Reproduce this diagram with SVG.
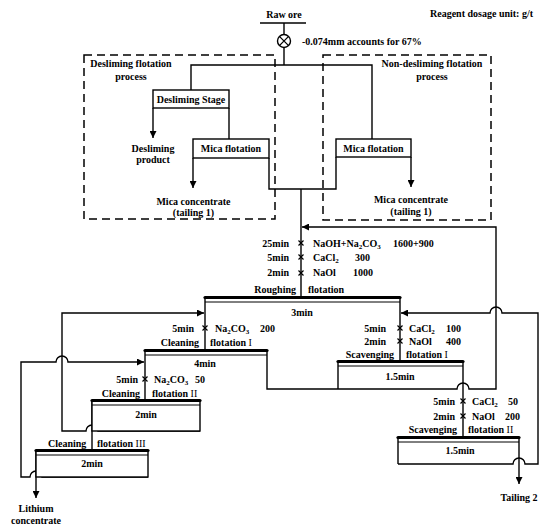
<svg xmlns="http://www.w3.org/2000/svg" width="550" height="532" viewBox="0 0 550 532">
<style>
.t{font-family:"Liberation Serif","Times New Roman",serif;font-weight:bold;font-size:10px;fill:#000}
.m{text-anchor:middle}
.e{text-anchor:end}
.n{font-weight:normal}
.s{font-size:7px}
.ln{fill:none;stroke:#000;stroke-width:1.4}
.dash{fill:none;stroke:#000;stroke-width:1.5;stroke-dasharray:8,5}
.box{fill:#fff;stroke:#000;stroke-width:1.4}
.bar{stroke:#000;stroke-width:3.2;stroke-linecap:round}
.thin{stroke:#000;stroke-width:1}
.x{stroke:#000;stroke-width:1.2}
</style>
<defs>
<marker id="ah" viewBox="0 0 10 10" refX="10" refY="5" markerWidth="8" markerHeight="7" markerUnits="userSpaceOnUse" orient="auto">
<path d="M0,0 L10,5 L0,10 z" fill="#000"/>
</marker>
</defs>
<rect width="550" height="532" fill="#fff"/>

<g id="legend"><text class="t" x="430" y="17">Reagent dosage unit: g/t</text></g>

<g id="dashed-areas">
<rect class="dash" x="84" y="55" width="191" height="164"/>
<rect class="dash" x="323" y="55" width="168" height="165"/>
<text class="t m" x="131" y="67">Desliming flotation</text>
<text class="t m" x="131" y="80">process</text>
<text class="t m" x="432" y="67">Non-desliming flotation</text>
<text class="t m" x="432" y="80">process</text>
</g>

<g id="connectors">
<!-- raw ore feed -->
<line class="ln" x1="260" y1="23" x2="306" y2="23"/>
<line class="ln" x1="284" y1="23" x2="284" y2="34.5"/>
<line class="ln" x1="284" y1="47.5" x2="284" y2="65"/>
<polyline class="ln" points="191,90 191,65 372,65 372,139"/>
<line class="ln" x1="153" y1="108" x2="153" y2="138" marker-end="url(#ah)"/>
<line class="ln" x1="229" y1="108" x2="229" y2="139"/>
<line class="ln" x1="193" y1="158" x2="193" y2="188" marker-end="url(#ah)"/>
<line class="ln" x1="411" y1="157" x2="411" y2="187" marker-end="url(#ah)"/>
<polyline class="ln" points="269,158 269,189 336,189 336,157"/>
<line class="ln" x1="301" y1="189" x2="301" y2="298"/>
<!-- roughing outputs -->
<line class="ln" x1="205" y1="298" x2="205" y2="351"/>
<line class="ln" x1="400" y1="298" x2="400" y2="362"/>
<!-- cleaning I outputs -->
<line class="ln" x1="145" y1="351" x2="145" y2="401"/>
<path class="ln" d="M267,351 V389 H457 A6,6 0 0 1 469,389 H496 V227 H302" marker-end="url(#ah)"/>
<!-- cleaning II -->
<line class="ln" x1="92" y1="401" x2="92" y2="451"/>
<path class="ln" d="M200,431 H98 A6,6 0 0 0 86,431 H62 V313 H204" marker-end="url(#ah)"/>
<!-- cleaning III -->
<path class="ln" d="M148,477 H42 A6,6 0 0 0 30,477 H21 V362 H56 A6,6 0 0 1 68,362 H144" marker-end="url(#ah)"/>
<line class="ln" x1="36" y1="451" x2="36" y2="498" marker-end="url(#ah)"/>
<!-- scavenging -->
<line class="ln" x1="463" y1="362" x2="463" y2="438"/>
<path class="ln" d="M398,464 H513 A6,6 0 0 1 525,464 H538 V313 H502 A6,6 0 0 0 490,313 H401" marker-end="url(#ah)"/>
<line class="ln" x1="519" y1="438" x2="519" y2="484" marker-end="url(#ah)"/>
<!-- reagent marks -->
<g class="x">
<path d="M298.5,240.5 L303.5,245.5 M303.5,240.5 L298.5,245.5"/>
<path d="M298.5,254.5 L303.5,259.5 M303.5,254.5 L298.5,259.5"/>
<path d="M298.5,270.5 L303.5,275.5 M303.5,270.5 L298.5,275.5"/>
<path d="M202.5,325.5 L207.5,330.5 M207.5,325.5 L202.5,330.5"/>
<path d="M142.5,376.5 L147.5,381.5 M147.5,376.5 L142.5,381.5"/>
<path d="M397.5,325.5 L402.5,330.5 M402.5,325.5 L397.5,330.5"/>
<path d="M397.5,338.5 L402.5,343.5 M402.5,338.5 L397.5,343.5"/>
<path d="M460.5,398.5 L465.5,403.5 M465.5,398.5 L460.5,403.5"/>
<path d="M460.5,413.5 L465.5,418.5 M465.5,413.5 L460.5,418.5"/>
</g>
</g>

<g id="raw-ore">
<text class="t m" x="284" y="18">Raw ore</text>
<circle cx="284" cy="41" r="6.5" fill="#fff" stroke="#000" stroke-width="1.4"/>
<path d="M279.4,36.4 L288.6,45.6 M288.6,36.4 L279.4,45.6" stroke="#000" stroke-width="1.3"/>
<text class="t" x="302" y="45">-0.074mm accounts for 67%</text>
</g>

<g id="desliming-stage">
<rect class="box" x="153" y="90" width="76" height="18"/>
<text class="t m" x="191" y="102.5">Desliming Stage</text>
</g>
<g id="desliming-product">
<text class="t m" x="153" y="151.5">Desliming</text>
<text class="t m" x="153" y="162.5">product</text>
</g>
<g id="mica-flotation-1">
<rect class="box" x="193" y="139" width="76" height="19"/>
<text class="t m" x="231" y="152">Mica flotation</text>
</g>
<g id="mica-concentrate-1">
<text class="t m" x="193.5" y="204.5">Mica concentrate</text>
<text class="t m" x="193.5" y="216">(tailing 1)</text>
</g>
<g id="mica-flotation-2">
<rect class="box" x="336" y="139" width="75" height="18"/>
<text class="t m" x="373.5" y="151.5">Mica flotation</text>
</g>
<g id="mica-concentrate-2">
<text class="t m" x="411" y="203">Mica concentrate</text>
<text class="t m" x="411" y="214.5">(tailing 1)</text>
</g>

<g id="roughing">
<line class="bar" x1="205" y1="297.5" x2="400" y2="297.5"/>
<line class="thin" x1="205" y1="302" x2="400" y2="302"/>
<text class="t m" x="302" y="316">3min</text>
<text class="t e" x="289" y="246.5">25min</text>
<text class="t" x="313" y="246.5">NaOH+Na<tspan class="s" dy="2">2</tspan><tspan dy="-2">CO</tspan><tspan class="s" dy="2">3</tspan></text>
<text class="t" x="393" y="246.5">1600+900</text>
<text class="t e" x="289" y="260.5">5min</text>
<text class="t" x="313" y="260.5">CaCl<tspan class="s" dy="2">2</tspan></text>
<text class="t" x="355" y="260.5">300</text>
<text class="t e" x="289" y="276">2min</text>
<text class="t" x="313" y="276">NaOl</text>
<text class="t" x="353" y="276">1000</text>
<text class="t e" x="296" y="292.5">Roughing</text>
<text class="t" x="308" y="292.5">flotation</text>
</g>

<g id="cleaning-1">
<line class="bar" x1="145" y1="350.5" x2="267" y2="350.5"/>
<line class="thin" x1="145" y1="355" x2="267" y2="355"/>
<text class="t m" x="205" y="367">4min</text>
<text class="t e" x="194" y="331.5">5min</text>
<text class="t" x="215" y="331.5">Na<tspan class="s" dy="2">2</tspan><tspan dy="-2">CO</tspan><tspan class="s" dy="2">3</tspan></text>
<text class="t" x="260" y="331.5">200</text>
<text class="t e" x="199" y="345.5">Cleaning</text>
<text class="t" x="210" y="345.5">flotation <tspan class="n">I</tspan></text>
</g>

<g id="cleaning-2">
<rect class="box" x="92" y="401" width="108" height="30" fill="none"/>
<line class="bar" x1="92" y1="400.5" x2="200" y2="400.5"/>
<line class="thin" x1="92" y1="405" x2="200" y2="405"/>
<text class="t m" x="146" y="418">2min</text>
<text class="t e" x="138" y="382.5">5min</text>
<text class="t" x="154" y="382.5">Na<tspan class="s" dy="2">2</tspan><tspan dy="-2">CO</tspan><tspan class="s" dy="2">3</tspan></text>
<text class="t" x="195" y="382.5">50</text>
<text class="t e" x="140" y="396.5">Cleaning</text>
<text class="t" x="152" y="396.5">flotation <tspan class="n">II</tspan></text>
</g>

<g id="cleaning-3">
<rect class="box" x="36" y="451" width="112" height="26" fill="none"/>
<line class="bar" x1="36" y1="450.5" x2="148" y2="450.5"/>
<line class="thin" x1="36" y1="455" x2="148" y2="455"/>
<text class="t m" x="92" y="467">2min</text>
<text class="t" x="48" y="446.5">Cleaning</text>
<text class="t" x="97" y="446.5">flotation <tspan class="n">III</tspan></text>
</g>

<g id="lithium-concentrate">
<text class="t m" x="36" y="511.5">Lithium</text>
<text class="t m" x="36" y="523.5">concentrate</text>
</g>

<g id="scavenging-1">
<line class="ln" x1="338" y1="362" x2="338" y2="389"/>
<line class="bar" x1="338" y1="361.5" x2="463" y2="361.5"/>
<line class="thin" x1="338" y1="366" x2="463" y2="366"/>
<text class="t m" x="400" y="380">1.5min</text>
<text class="t e" x="386" y="331.5">5min</text>
<text class="t" x="409" y="331.5">CaCl<tspan class="s" dy="2">2</tspan></text>
<text class="t" x="446" y="331.5">100</text>
<text class="t e" x="386" y="345">2min</text>
<text class="t" x="409" y="345">NaOl</text>
<text class="t" x="446" y="345">400</text>
<text class="t e" x="394" y="357.5">Scavenging</text>
<text class="t" x="406" y="357.5">flotation <tspan class="n">I</tspan></text>
</g>

<g id="scavenging-2">
<line class="ln" x1="398" y1="438" x2="398" y2="464"/>
<line class="bar" x1="398" y1="437.5" x2="519" y2="437.5"/>
<line class="thin" x1="398" y1="442" x2="519" y2="442"/>
<text class="t m" x="460" y="454">1.5min</text>
<text class="t e" x="455" y="404.5">5min</text>
<text class="t" x="472" y="404.5">CaCl<tspan class="s" dy="2">2</tspan></text>
<text class="t" x="508" y="404.5">50</text>
<text class="t e" x="455" y="419.5">2min</text>
<text class="t" x="472" y="419.5">NaOl</text>
<text class="t" x="505" y="419.5">200</text>
<text class="t e" x="457" y="432.5">Scavenging</text>
<text class="t" x="468" y="432.5">flotation <tspan class="n">II</tspan></text>
</g>

<g id="tailing-2">
<text class="t m" x="519" y="500.5">Tailing 2</text>
</g>
</svg>
